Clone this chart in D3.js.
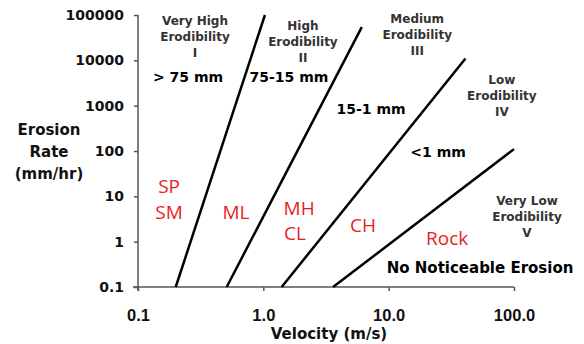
<!DOCTYPE html>
<html>
<head>
<meta charset="utf-8">
<script src="https://cdn.jsdelivr.net/npm/d3@7"></script>
<style>
  html, body { margin: 0; padding: 0; background: #fff; }
  svg { display: block; font-family: "Liberation Sans", Arial, sans-serif; }
</style>
</head>
<body>
<svg id="chart" width="584" height="344"></svg>
<script>
// ---- data ----
const xTicks = [0.1, 1, 10, 100];
const xTickLabels = ["0.1", "1.0", "10.0", "100.0"];
const yTicks = [0.1, 1, 10, 100, 1000, 10000, 100000];
const yTickLabels = ["0.1", "1", "10", "100", "1000", "10000", "100000"];

// boundary lines: [velocity, erosion rate] endpoints
const boundaryI_II   = [[0.2, 0.1], [1.03, 100000]];
const boundaryII_III = [[0.51, 0.1], [6.1, 54000]];
const boundaryIII_IV = [[1.4, 0.1], [41, 11000]];
const boundaryIV_V   = [[3.6, 0.1], [100, 110]];
const boundaries = [boundaryI_II, boundaryII_III, boundaryIII_IV, boundaryIV_V];

// zone category labels, anchored in data coordinates
const zoneNames = [
  ["Very High", "Erodibility", "I"],
  ["High", "Erodibility", "II"],
  ["Medium", "Erodibility", "III"],
  ["Low", "Erodibility", "IV"],
  ["Very Low", "Erodibility", "V"]
];
const zoneAnchors = [[0.285, 77000], [2.07, 60000], [16.9, 82000], [80, 3700], [127, 8.2]];

const sizeLabels = ["> 75 mm", "75-15 mm", "15-1 mm", "<1 mm", "No Noticeable Erosion"];
const sizeAnchors = [[0.251, 4300], [1.6, 4300], [7.24, 840], [24.8, 95], [53.6, 0.27]];

const soilLabels = ["SP", "SM", "ML", "MH", "CL", "CH", "Rock"];
const soilAnchors = [[0.177, 16.8], [0.177, 4.5], [0.605, 4.5], [1.93, 5.5], [1.79, 1.54], [6.25, 2.3], [29.3, 1.19]];

// ---- styles (kept apart from data) ----
const LIB = "Liberation Sans, Arial, sans-serif";
const DJV = "DejaVu Sans, Verdana, sans-serif";
const sizeFontSizes = [14, 14, 14, 14, 15];

// ---- chart ----
const svg = d3.select("#chart");
const x = d3.scaleLog().domain([0.1, 100]).range([138, 514]);
const y = d3.scaleLog().domain([0.1, 100000]).range([287, 15]);

const axisColor = "#555";

// y axis
const gy = svg.append("g").attr("transform", `translate(${x(0.1)},0)`)
  .call(d3.axisLeft(y).tickValues(yTicks).tickSize(4).tickPadding(10)
    .tickFormat((d, i) => yTickLabels[i]));
gy.select(".domain").attr("stroke", axisColor).attr("stroke-width", 1.5)
  .attr("d", `M0,${y(100000)}V${y(0.1) + 4}`);
gy.selectAll(".tick line").attr("stroke", axisColor).attr("stroke-width", 1.5);
gy.selectAll(".tick text").attr("fill", "#111").attr("font-size", 14).attr("font-weight", "bold")
  .attr("font-family", DJV);

// x axis
const gx = svg.append("g").attr("transform", `translate(0,${y(0.1)})`)
  .call(d3.axisBottom(x).tickValues(xTicks).tickSize(4).tickPadding(18)
    .tickFormat((d, i) => xTickLabels[i]));
gx.select(".domain").attr("stroke", axisColor).attr("stroke-width", 1.5)
  .attr("d", `M${x(0.1) - 5},0H${x(100)}`);
gx.selectAll(".tick line").attr("stroke", axisColor).attr("stroke-width", 1.5);
gx.selectAll(".tick text").attr("fill", "#111").attr("font-size", 16.5).attr("font-weight", "bold")
  .attr("font-family", LIB);

// axis titles
svg.append("text").attr("x", 329).attr("y", 339).attr("text-anchor", "middle")
  .attr("font-family", DJV)
  .attr("font-size", 15).attr("font-weight", "bold").attr("fill", "#111")
  .text("Velocity (m/s)");
const yt = svg.append("text").attr("text-anchor", "middle")
  .attr("font-family", DJV)
  .attr("font-size", 15).attr("font-weight", "bold").attr("fill", "#111");
["Erosion", "Rate", "(mm/hr)"].forEach((t, i) => {
  yt.append("tspan").attr("x", 49).attr("y", 135 + i * 22).text(t);
});

// boundary lines
const line = d3.line().x(d => x(d[0])).y(d => y(d[1]));
svg.selectAll("path.boundary").data(boundaries).join("path")
  .attr("class", "boundary")
  .attr("d", line)
  .attr("fill", "none").attr("stroke", "#000").attr("stroke-width", 2.5);

// zone names
zoneNames.forEach((lines, i) => {
  const [vx, ey] = zoneAnchors[i];
  const t = svg.append("text").attr("text-anchor", "middle")
    .attr("font-family", DJV)
    .attr("font-size", 12).attr("font-weight", "bold").attr("fill", "#333");
  lines.forEach((s, j) => {
    t.append("tspan").attr("x", x(vx)).attr("y", y(ey) + 4.5 + j * 16).text(s);
  });
});

// size labels
svg.selectAll("text.size").data(sizeLabels).join("text")
  .attr("class", "size")
  .attr("x", (d, i) => x(sizeAnchors[i][0]))
  .attr("y", (d, i) => y(sizeAnchors[i][1]))
  .attr("dy", "0.36em")
  .attr("text-anchor", "middle")
  .attr("font-family", DJV)
  .attr("font-size", (d, i) => sizeFontSizes[i])
  .attr("font-weight", "bold").attr("fill", "#000")
  .text(d => d);

// soil labels
svg.selectAll("text.soil").data(soilLabels).join("text")
  .attr("class", "soil")
  .attr("x", (d, i) => x(soilAnchors[i][0]))
  .attr("y", (d, i) => y(soilAnchors[i][1]))
  .attr("dy", "0.36em")
  .attr("text-anchor", "middle")
  .attr("font-family", "Open Sans, Liberation Sans, sans-serif")
  .attr("font-size", 19).attr("fill", "#e61e1e")
  .text(d => d);
</script>
</body>
</html>
